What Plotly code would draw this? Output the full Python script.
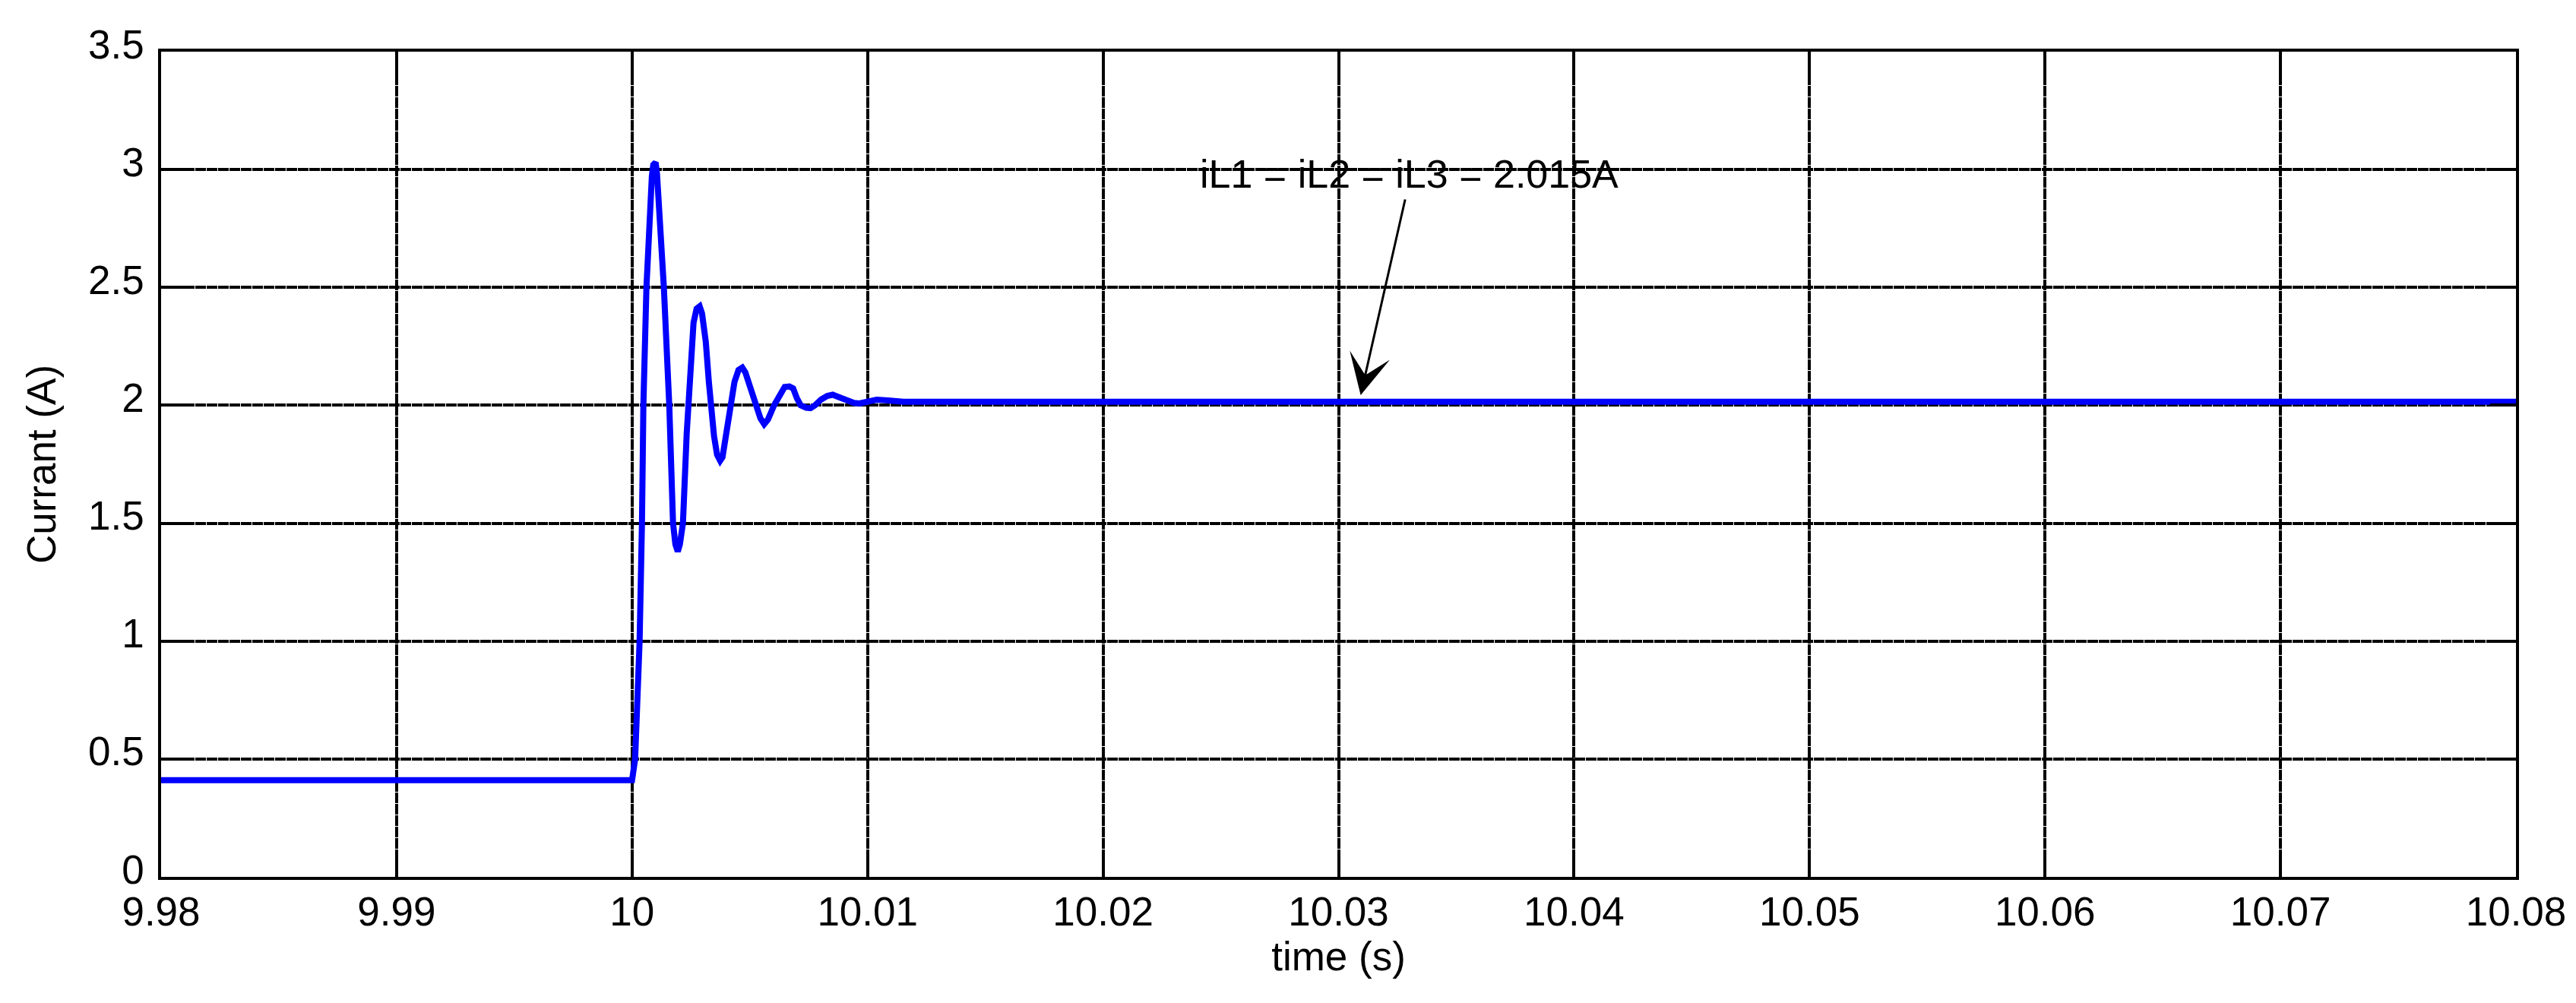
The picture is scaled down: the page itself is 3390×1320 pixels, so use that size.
import plotly.graph_objects as go

# ---- data ----
time_s = [9.98, 10.0, 10.00013, 10.00032, 10.00042, 10.00048, 10.00061, 10.00074,
          10.00084, 10.0009, 10.001, 10.00106, 10.00116, 10.00135, 10.00158, 10.00174,
          10.00184, 10.00194, 10.00203, 10.00216, 10.00232, 10.00239, 10.00248, 10.00261,
          10.00274, 10.00287, 10.00297, 10.00313, 10.00326, 10.00335, 10.00348, 10.00361,
          10.00374, 10.00384, 10.00397, 10.00416, 10.00435, 10.00452, 10.00468, 10.00481,
          10.005, 10.00529, 10.00545, 10.00561, 10.00577, 10.00603, 10.00629, 10.00648,
          10.00668, 10.00684, 10.007, 10.00716, 10.00739, 10.00758, 10.00777, 10.00803,
          10.00829, 10.00852, 10.00877, 10.0091, 10.00942, 10.00965, 10.00997, 10.01039,
          10.01087, 10.01152, 10.08]
current_a = [0.41, 0.41, 0.5, 1.0, 1.5, 2.0, 2.5, 2.8,
             2.97, 3.02, 3.03, 2.98, 2.82, 2.5, 2.0, 1.5,
             1.41, 1.38, 1.41, 1.5, 1.88, 2.0, 2.2, 2.35,
             2.41, 2.42, 2.39, 2.27, 2.1, 2.0, 1.87, 1.79,
             1.765, 1.78, 1.86, 2.0, 2.1, 2.15, 2.16, 2.14,
             2.08, 2.0, 1.945, 1.92, 1.94, 2.0, 2.05, 2.078,
             2.08, 2.072, 2.03, 2.0, 1.99, 1.988, 2.0, 2.025,
             2.04, 2.045, 2.035, 2.02, 2.01, 2.008, 2.017, 2.024,
             2.021, 2.015, 2.015]

x_tickvals = [9.98, 9.99, 10.0, 10.01, 10.02, 10.03, 10.04, 10.05, 10.06, 10.07, 10.08]
x_ticktext = ["9.98", "9.99", "10", "10.01", "10.02", "10.03", "10.04", "10.05",
              "10.06", "10.07", "10.08"]
y_tickvals = [0, 0.5, 1, 1.5, 2, 2.5, 3, 3.5]
y_ticktext = ["0", "0.5", "1", "1.5", "2", "2.5", "3", "3.5"]

annot_text = "iL1 = iL2 = iL3 = 2.015A"
annot_pos = (10.033, 2.98)
arrow_head = (10.03094, 2.043)
arrow_tail = (10.03284, 2.878)

FONT = "Liberation Sans, Arial, sans-serif"

fig = go.Figure()
fig.add_trace(go.Scatter(x=time_s, y=current_a, mode="lines",
                         line=dict(color="#0000ff", width=8), showlegend=False))

axis_common = dict(
    showline=True, linecolor="black", linewidth=3.5, mirror="allticks",
    ticks="inside", ticklen=34, tickwidth=3.5, tickcolor="black",
    showgrid=True, gridcolor="black", gridwidth=3.5, griddash="14px,1px",
    zeroline=False, tickfont=dict(family=FONT, size=53, color="black"),
)

fig.update_xaxes(range=[9.98, 10.08], tickmode="array", tickvals=x_tickvals,
                 ticktext=x_ticktext, ticklabelstandoff=-3,
                 title=dict(text="time (s)", font=dict(family=FONT, size=53, color="black"),
                            standoff=12),
                 **axis_common)
fig.update_yaxes(range=[0, 3.5], tickmode="array", tickvals=y_tickvals,
                 ticktext=y_ticktext, ticklabelstandoff=8, ticklabelshift=-10,
                 title=dict(text="Currant (A)", font=dict(family=FONT, size=53, color="black"),
                            standoff=26),
                 **axis_common)

fig.add_annotation(x=annot_pos[0], y=annot_pos[1], text=annot_text, showarrow=False,
                   xanchor="center", yanchor="middle",
                   font=dict(family=FONT, size=52, color="black"))
fig.add_annotation(x=arrow_head[0], y=arrow_head[1], ax=arrow_tail[0], ay=arrow_tail[1],
                   axref="x", ayref="y", text="", showarrow=True,
                   arrowhead=3, arrowsize=3, arrowwidth=3, arrowcolor="black")

fig.update_layout(width=3390, height=1320, plot_bgcolor="white", paper_bgcolor="white",
                  margin=dict(l=204, r=87, t=60, b=174),
                  font=dict(family=FONT, size=53, color="black"))

fig.write_html("out.html")
